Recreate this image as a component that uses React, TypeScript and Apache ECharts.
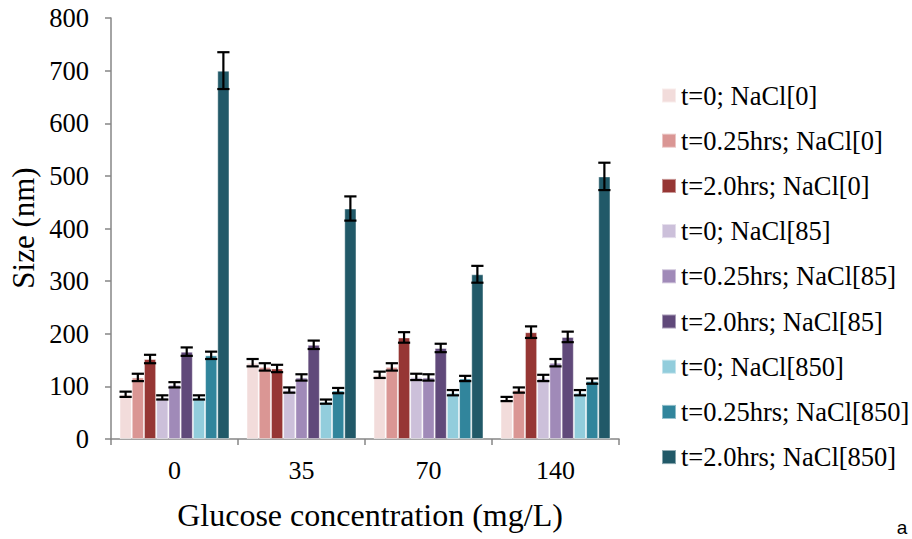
import React, { useEffect, useRef } from "react";
import * as echarts from "echarts";

const categories = ["0", "35", "70", "140"];
const seriesNames = [
  "t=0; NaCl[0]",
  "t=0.25hrs; NaCl[0]",
  "t=2.0hrs; NaCl[0]",
  "t=0; NaCl[85]",
  "t=0.25hrs; NaCl[85]",
  "t=2.0hrs; NaCl[85]",
  "t=0; NaCl[850]",
  "t=0.25hrs; NaCl[850]",
  "t=2.0hrs; NaCl[850]",
];
const colors = [
  "#F2DCDB",
  "#DA9694",
  "#963634",
  "#CCC0DA",
  "#A08AB8",
  "#60497A",
  "#92CDDC",
  "#31859C",
  "#215968",
];
// values per series, across categories [0, 35, 70, 140]
const values = [
  [85, 145, 122, 76],
  [117, 137, 137, 93],
  [152, 134, 193, 203],
  [79, 93, 118, 116],
  [103, 117, 117, 145],
  [166, 179, 173, 194],
  [79, 71, 88, 88],
  [159, 92, 115, 110],
  [700, 438, 313, 499],
];
const errors = [
  [5, 7, 6, 4],
  [7, 7, 7, 5],
  [8, 7, 10, 11],
  [4, 5, 6, 6],
  [5, 6, 6, 7],
  [8, 8, 8, 10],
  [4, 4, 5, 5],
  [7, 5, 5, 5],
  [35, 23, 16, 26],
];

const CAT_GAP = 0.134;
const SERIF = "Liberation Serif";

export default function App() {
  const ref = useRef<HTMLDivElement>(null);
  useEffect(() => {
    if (!ref.current) return;
    const chart = echarts.init(ref.current, null, { renderer: "svg" });
    const n = seriesNames.length;
    const barSeries = seriesNames.map((name, s) => ({
      name,
      type: "bar",
      data: values[s],
      barGap: "0%",
      barCategoryGap: CAT_GAP * 100 + "%",
      itemStyle: {
        color: colors[s],
        borderColor: "rgba(255,255,255,0.45)",
        borderWidth: 1,
      },
      emphasis: { disabled: true },
    }));
    const errData: number[][] = [];
    for (let s = 0; s < n; s++) {
      for (let c = 0; c < categories.length; c++) {
        errData.push([c, values[s][c] - errors[s][c], values[s][c] + errors[s][c], s]);
      }
    }
    const errSeries = {
      type: "custom",
      name: "err",
      data: errData,
      encode: { x: 0, y: [1, 2] },
      z: 10,
      silent: true,
      renderItem: (params: any, api: any) => {
        const c = api.value(0);
        const lo = api.coord([c, api.value(1)]);
        const hi = api.coord([c, api.value(2)]);
        const s = api.value(3);
        const band = api.size([1, 0])[0];
        const barW = (band * (1 - CAT_GAP)) / n;
        const x = lo[0] + (s - (n - 1) / 2) * barW;
        const hw = barW * 0.5;
        const style = { stroke: "#000", lineWidth: 2.2 };
        return {
          type: "group",
          children: [
            { type: "line", shape: { x1: x, y1: lo[1], x2: x, y2: hi[1] }, style },
            { type: "line", shape: { x1: x - hw, y1: lo[1], x2: x + hw, y2: lo[1] }, style },
            { type: "line", shape: { x1: x - hw, y1: hi[1], x2: x + hw, y2: hi[1] }, style },
          ],
        };
      },
    };
    chart.setOption({
      animation: false,
      backgroundColor: "#fff",
      grid: { left: 111, right: 293, top: 18, bottom: 100, containLabel: false },
      legend: {
        data: seriesNames,
        orient: "vertical",
        left: 661,
        top: 82,
        padding: 0,
        itemWidth: 14,
        itemHeight: 14,
        itemGap: 18.2,
        icon: "rect",
        textStyle: { fontFamily: SERIF, fontSize: 26.5, color: "#000" },
      },
      xAxis: {
        type: "category",
        data: categories,
        axisLine: { lineStyle: { color: "#868686", width: 1.5 } },
        axisTick: { show: true, length: 6, lineStyle: { color: "#868686", width: 1.5 } },
        axisLabel: { fontFamily: SERIF, fontSize: 26, color: "#000", margin: 18 },
      },
      yAxis: {
        type: "value",
        min: 0,
        max: 800,
        interval: 100,
        splitLine: { show: false },
        axisLine: { show: true, lineStyle: { color: "#868686", width: 1.5 } },
        axisTick: { show: true, length: 6, lineStyle: { color: "#868686", width: 1.5 } },
        axisLabel: { fontFamily: SERIF, fontSize: 26.5, color: "#000", margin: 22 },
      },
      graphic: [
        {
          type: "text",
          x: 23,
          y: 228,
          rotation: Math.PI / 2,
          style: {
            text: "Size (nm)",
            fontFamily: SERIF,
            fontSize: 31,
            fill: "#000",
            textAlign: "center",
            textVerticalAlign: "middle",
          },
        },
        {
          type: "text",
          x: 370,
          y: 515,
          style: {
            text: "Glucose concentration (mg/L)",
            fontFamily: SERIF,
            fontSize: 32,
            fill: "#000",
            textAlign: "center",
            textVerticalAlign: "middle",
          },
        },
        {
          type: "text",
          x: 902,
          y: 527,
          style: {
            text: "a",
            fontFamily: "Liberation Sans",
            fontSize: 19,
            fill: "#000",
            textAlign: "center",
            textVerticalAlign: "middle",
          },
        },
      ],
      series: [...barSeries, errSeries],
    });
    return () => chart.dispose();
  }, []);
  return <div ref={ref} style={{ width: 912, height: 539, position: "absolute", left: 0, top: 0 }} />;
}
